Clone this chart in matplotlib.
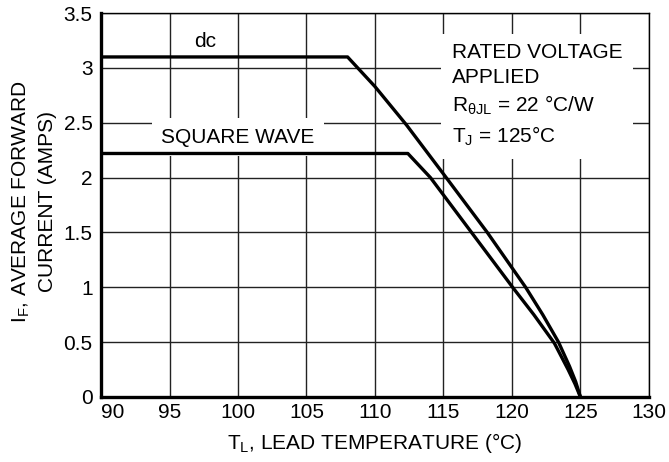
import matplotlib
matplotlib.use("Agg")
import matplotlib.pyplot as plt

# ----------------------------
# Data
# ----------------------------
dc_temp = [90, 108.0, 110.0, 112.3, 115.2, 118.2, 121.0, 122.25, 123.4, 124.2, 124.65, 125.0]
dc_curr = [3.10, 3.10, 2.83, 2.48, 2.00, 1.50, 1.00, 0.75, 0.50, 0.28, 0.14, 0.0]

sq_temp = [90, 112.4, 114.05, 117.05, 120.05, 121.6, 123.1, 124.1, 124.6, 125.0]
sq_curr = [2.22, 2.22, 2.00, 1.50, 1.00, 0.75, 0.49, 0.25, 0.12, 0.0]

x_ticks = [90, 95, 100, 105, 110, 115, 120, 125, 130]
y_ticks = [0, 0.5, 1, 1.5, 2, 2.5, 3, 3.5]
y_tick_labels = ["0", "0.5", "1", "1.5", "2", "2.5", "3", "3.5"]

# ----------------------------
# Style
# ----------------------------
plt.rcParams["font.family"] = ["Liberation Sans", "DejaVu Sans"]
plt.rcParams["font.size"] = 15

fig = plt.figure(figsize=(6.69, 4.62), dpi=100)
ax = fig.add_axes([0.151, 0.1407, 0.819, 0.831])

ax.plot(dc_temp, dc_curr, color="black", lw=2.4, solid_capstyle="butt", zorder=3)
ax.plot(sq_temp, sq_curr, color="black", lw=2.4, solid_capstyle="butt", zorder=3)

ax.set_xlim(90, 130)
ax.set_ylim(0, 3.5)
ax.set_xticks(x_ticks)
ax.set_yticks(y_ticks)
ax.set_yticklabels(y_tick_labels)
ax.tick_params(length=0, labelsize=15, pad=6)
ax.tick_params(axis="x", pad=4)
ax.get_xticklabels()[0].set_horizontalalignment("left")

ax.grid(True, color="#222222", lw=1.0, zorder=1)
ax.set_axisbelow(True)

for side in ["left", "bottom"]:
    ax.spines[side].set_linewidth(2.4)
for side in ["top", "right"]:
    ax.spines[side].set_linewidth(1.0)

ax.set_xlabel(r"T$_{\mathregular{L}}$, LEAD TEMPERATURE (°C)", fontsize=15, labelpad=7)
ax.set_ylabel("I$_{\\mathregular{F}}$, AVERAGE FORWARD\nCURRENT (AMPS)", fontsize=15,
              linespacing=1.4)
ax.yaxis.set_label_coords(-0.080, 0.51)

# ----------------------------
# Annotations (white boxes sit over the grid, under the curves)
# ----------------------------
ax.text(97.6, 3.24, "dc", ha="center", va="center", fontsize=15, zorder=2.5)
ax.text(100.0, 2.37, "SQUARE WAVE", ha="center", va="center", fontsize=15, zorder=2.5,
        bbox=dict(boxstyle="square,pad=0.45", fc="white", ec="none"))
ax.text(115.6, 3.23,
        "RATED VOLTAGE\nAPPLIED\nR$_{\\mathregular{θJL}}$ = 22 °C/W\nT$_{\\mathregular{J}}$ = 125°C",
        ha="left", va="top", fontsize=15, linespacing=1.4, zorder=2.5,
        bbox=dict(boxstyle="square,pad=0.5", fc="white", ec="none"))

fig.savefig("out.png", dpi=100)
